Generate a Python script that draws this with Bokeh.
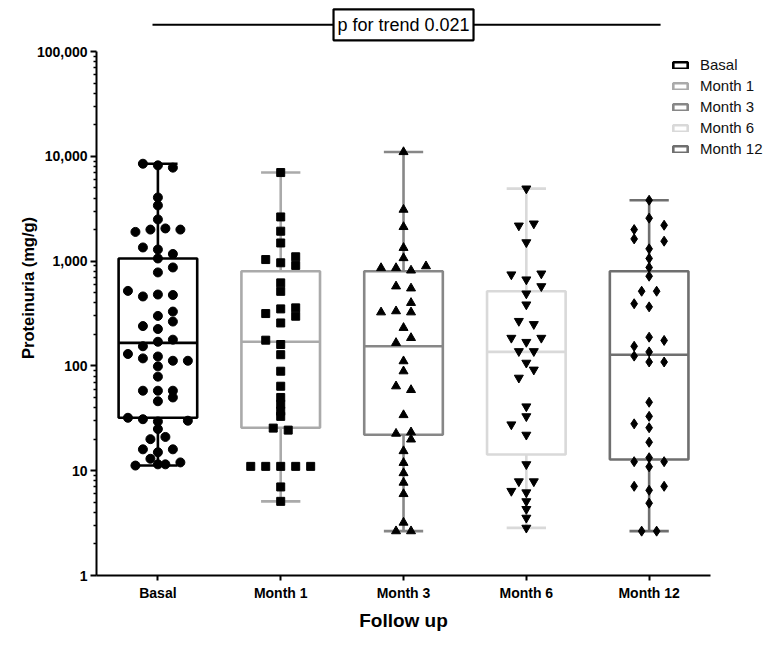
from bokeh.plotting import figure
from bokeh.models import (Range1d, FixedTicker, NumeralTickFormatter, Legend,
                          LegendItem, ColumnDataSource, Title, LinearAxis)
from bokeh.embed import file_html
from bokeh.resources import INLINE
from bokeh.core.properties import value

# ---------------- data ----------------
categories = ["Basal", "Month 1", "Month 3", "Month 6", "Month 12"]
box_colors = ["#000000", "#aaaaaa", "#878787", "#d9d9d9", "#6f6f6f"]
markers = ["circle", "square", "triangle", "inverted_triangle", "diamond"]
marker_sizes = [9, 8, 9, 9, 10]

whisker_low = [11.2, 5.1, 2.65, 2.85, 2.65]
q1 = [32, 25.7, 22, 14.3, 12.8]
median = [166, 170, 154, 136, 128]
q3 = [1060, 800, 800, 516, 800]
whisker_high = [8500, 7000, 11000, 4920, 3810]

basal_values = [8500, 8200, 7800, 4050, 3400, 2500, 1900, 2000, 2050, 2000,
                1350, 1290, 1170, 1060, 870, 780, 520, 460, 480, 475,
                300, 330, 265, 240, 225, 170, 178, 130, 154, 118,
                123, 112, 112, 99, 79, 58, 58, 58, 50, 46,
                32, 31, 29.5, 30, 25, 20, 21, 16, 15, 16,
                13, 11.2, 11.5, 11.5, 12]
basal_slots = [-1, 0, 1, 0, 0, 0, -1.5, -0.5, 0.5, 1.5,
               -1, 0, 1, 0, 1, 0, -2, -1, 0, 1,
               0, 1, 1, -1, 0, 0, 1, -2, -1, -1,
               0, 1, 2, 0, 0, -1, 0, 1, 1, 0,
               -2, -1, 0, 2, 0, -0.5, 0.5, -1, 0, 1,
               -0.5, -1.5, 0, 0.5, 1.5]

month1_values = [7000, 2640, 1930, 1490, 1035, 964, 1100, 910, 620, 515,
                 350, 316, 358, 298, 257, 176, 160, 128, 89, 64,
                 50, 43, 37, 33, 25.5, 24.4, 11, 11, 11, 11,
                 11, 7.0, 5.1]
month1_slots = [0, 0, 0, 0, -1, 0, 1, 1, 0, 0,
                0, -1, 1, 1, 0, -1, 0, 0, 0, 0,
                0, 0, 0, 0, -0.5, 0.5, -2, -1, 0, 1,
                2, 0, 0]

month3_values = [11000, 3100, 2120, 1340, 1070, 860, 860, 815, 895, 575,
                 550, 400, 325, 333, 325, 231, 185, 166, 111, 89,
                 64, 59, 34, 22.6, 23.3, 19.9, 15.4, 11.9, 9.5, 7.7,
                 6.0, 3.2, 2.65, 2.65]
month3_slots = [0, 0, 0, 0, 0, -1.5, -0.5, 0.5, 1.5, -0.5,
                0.5, 0.5, -1.5, -0.5, 0.5, 0, 0.5, -0.5, 0, 0,
                -0.5, 0.5, 0, -0.5, 0.5, 0.5, 0, 0, 0, 0,
                0, 0, -0.5, 0.5]

month6_values = [4920, 2180, 2280, 1510, 745, 667, 760, 575, 490, 385,
                 268, 250, 185, 169, 185, 138, 138, 107, 92, 77,
                 41, 33, 27.6, 22, 11.5, 7.9, 7.9, 6.4, 6.2, 5.1,
                 4.3, 3.55, 2.85]
month6_slots = [0, -0.5, 0.5, 0, -1, 0, 1, 1, 0, 0,
                -0.5, 0.5, -1, 0, 1, -0.5, 0.5, 0, 0.5, -0.5,
                0, 0, -1, 0, 0, -0.5, 0.5, -1, 0, 0,
                0, 0, 0]

month12_values = [3810, 2570, 2000, 1630, 2200, 1550, 1310, 1060, 870, 718,
                  516, 516, 392, 366, 188, 154, 175, 124, 136, 109,
                  109, 45, 33, 28, 25.7, 18.7, 12.2, 13.3, 12.2, 10.9,
                  7.1, 7.1, 6.5, 4.9, 2.65, 2.65]
month12_slots = [0, 0, -1, -1, 1, 1, 0, 0, 0, 0,
                 -0.5, 0.5, -1, 0, 0, -1, 1, -1, 0, 0,
                 1, 0, 0, -1, 0, 0, -1, 0, 1, 0,
                 -1, 1, 0, 0, -0.5, 0.5]

group_values = [basal_values, month1_values, month3_values, month6_values, month12_values]
group_slots = [basal_slots, month1_slots, month3_slots, month6_slots, month12_slots]

trend_label = "p for trend 0.021"
trend_from, trend_to, trend_mid = -0.044, 4.093, 2
trend_level = 10 ** 5.255

x_title_text = "Follow up"
y_title_text = "Proteinuria (mg/g)"

y_ticks = [1, 10, 100, 1000, 10000, 100000]
y_minor = [m * 10 ** d for d in range(5) for m in range(2, 10)]

# ---------------- figure ----------------
FONT = "Liberation Sans"
BOX_HALF = 0.32
CAP_HALF = 0.16
SLOT = 0.122
FRAME_LEFT = 96

p = figure(width=769, height=645, y_axis_type="log",
           x_range=Range1d(-0.5, 4.98), y_range=Range1d(1, 10 ** 5.487),
           output_backend="svg", toolbar_location=None,
           min_border_left=FRAME_LEFT, min_border_right=0, min_border_top=0,
           min_border_bottom=70)
p.outline_line_color = None
p.xgrid.visible = False
p.ygrid.visible = False

xs = list(range(len(categories)))
src = ColumnDataSource(dict(
    x=xs,
    left=[i - BOX_HALF for i in xs], right=[i + BOX_HALF for i in xs],
    capl=[i - CAP_HALF for i in xs], capr=[i + CAP_HALF for i in xs],
    low=whisker_low, q1=q1, med=median, q3=q3, high=whisker_high,
    color=box_colors, cat=categories))

LW = 2.6
p.segment(x0="x", x1="x", y0="q3", y1="high", line_color="color", line_width=LW, source=src)
p.segment(x0="x", x1="x", y0="low", y1="q1", line_color="color", line_width=LW, source=src)
p.segment(x0="capl", x1="capr", y0="high", y1="high", line_color="color", line_width=LW, source=src)
p.segment(x0="capl", x1="capr", y0="low", y1="low", line_color="color", line_width=LW, source=src)
boxes = p.quad(left="left", right="right", bottom="q1", top="q3", fill_color="white",
               fill_alpha=0.0, line_color="color", line_width=LW, source=src)
p.segment(x0="left", x1="right", y0="med", y1="med", line_color="color", line_width=LW, source=src)

for i, (vals, slots) in enumerate(zip(group_values, group_slots)):
    px = [i + s * SLOT for s in slots]
    p.scatter(px, vals, marker=markers[i], size=marker_sizes[i],
              fill_color="black", line_color="black")

# trend annotation
p.segment(x0=[trend_from], x1=[trend_to], y0=[trend_level], y1=[trend_level],
          line_color="black", line_width=2)
p.rect(x=[trend_mid], y=[trend_level], width=140, height=31, width_units="screen",
       height_units="screen", fill_color="white", line_color="black", line_width=2.2)
p.text(x=[trend_mid], y=[trend_level], text=[trend_label], text_align="center",
       text_baseline="middle", text_font=value(FONT), text_font_size="18px",
       text_color="black")

# legend
items = [LegendItem(label=c, renderers=[boxes], index=i) for i, c in enumerate(categories)]
legend = Legend(items=items, location=(575, 416))
legend.glyph_width = 18
legend.glyph_height = 8
legend.label_height = 21
legend.spacing = 0
legend.padding = 0
legend.margin = 0
legend.label_standoff = 11
legend.label_text_font = FONT
legend.label_text_font_size = "15px"
legend.label_text_color = "#111111"
legend.border_line_color = None
legend.background_fill_alpha = 0
p.add_layout(legend)

# y axis
ya = p.yaxis[0]
ya.ticker = FixedTicker(ticks=y_ticks, minor_ticks=y_minor)
ya.formatter = NumeralTickFormatter(format="0,0")
ya.bounds = (1, 100000)
ya.axis_line_width = 2
ya.major_tick_line_width = 2
ya.minor_tick_line_width = 1.5
ya.major_tick_out = 6
ya.major_tick_in = 0
ya.minor_tick_out = 3
ya.minor_tick_in = 0
ya.major_label_standoff = 3
ya.major_label_text_font = FONT
ya.major_label_text_font_style = "bold"
ya.major_label_text_font_size = "14px"
ya.major_label_text_color = "black"
ya.axis_label = y_title_text
ya.axis_label_text_font = FONT
ya.axis_label_text_font_style = "bold"
ya.axis_label_text_font_size = "16.5px"
ya.axis_label_text_color = "black"
ya.axis_label_standoff = -3

# x axis
xa = p.xaxis[0]
xa.ticker = FixedTicker(ticks=xs, minor_ticks=[])
xa.major_label_overrides = {i: c for i, c in enumerate(categories)}
xa.bounds = (-0.5, 4.5)
xa.axis_line_width = 2
xa.major_tick_line_width = 2
xa.major_tick_out = 5
xa.major_tick_in = 0
xa.major_label_standoff = 4
xa.major_label_text_font = FONT
xa.major_label_text_font_style = "bold"
xa.major_label_text_font_size = "14px"
xa.major_label_text_color = "black"

# blank spacer band between tick labels and the x title (white, no ticks drawn)
spacer = LinearAxis(ticker=FixedTicker(ticks=[], minor_ticks=[]),
                    axis_line_color=None,
                    major_tick_line_color="white", minor_tick_line_color=None,
                    major_tick_out=11, major_tick_in=0, minor_tick_out=0,
                    major_label_standoff=0)
p.add_layout(spacer, "below")

# x axis title, centred under the axis bounds (not the whole frame)
X_TITLE_SIZE = 19
x_title_width = 4.667 * X_TITLE_SIZE
axis_mid_px = 2 * 122.8 + 61.4  # centre of axis bounds, from frame left
x_title = Title(text=x_title_text, align="left",
                offset=axis_mid_px - x_title_width / 2,
                text_font=FONT, text_font_style="bold",
                text_font_size=f"{X_TITLE_SIZE}px", text_color="black",
                standoff=8)
p.add_layout(x_title, "below")

open("out.html", "w").write(file_html(p, INLINE))
